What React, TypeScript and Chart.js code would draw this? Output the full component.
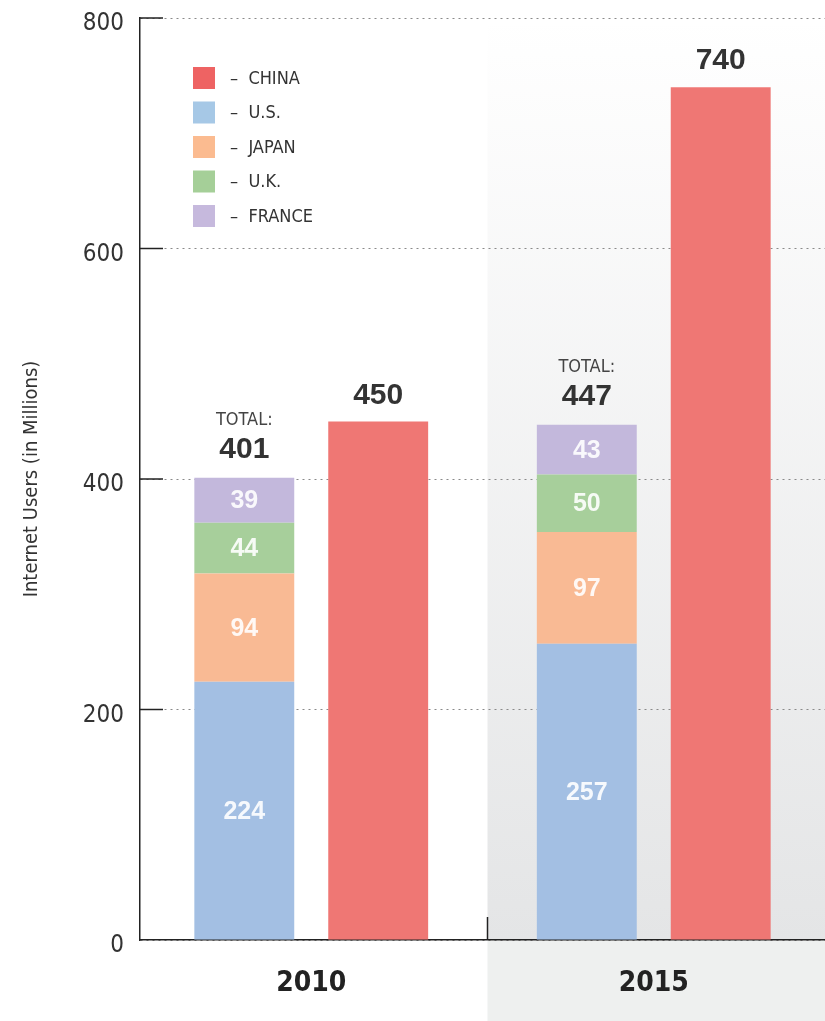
import React, { useEffect, useRef } from "react";
import { Chart, registerables } from "chart.js";
Chart.register(...registerables);

const years = ["2010", "2015"];
const china = [450, 740];
const us = [224, 257];
const japan = [94, 97];
const uk = [44, 50];
const france = [39, 43];
const yTickValues = [0, 200, 400, 600, 800];
const legendLabels = ["CHINA", "U.S.", "JAPAN", "U.K.", "FRANCE"];
const yTitle = "Internet Users (in Millions)";

const C_CHINA = "#ef7774";
const C_US = "#a3bfe3";
const C_JAPAN = "#f9ba94";
const C_UK = "#a7cf9b";
const C_FRANCE = "#c3b8dc";
const legendColors = ["#ee6363", "#a6c8e6", "#fbbb90", "#a5cf98", "#c6b9dd"];

const NARROW = '"Liberation Sans Narrow", "DejaVu Sans Condensed", "Roboto Condensed", sans-serif';
const BOLD = '"Liberation Sans", Arial, sans-serif';

const bgPlugin = {
  id: "bgPlugin",
  beforeDraw(chart: any) {
    const { ctx, chartArea, scales } = chart;
    const xs = scales.x;
    const mid = (xs.getPixelForTick(0) + xs.getPixelForTick(1)) / 2 + 5;
    ctx.save();
    const g = ctx.createLinearGradient(0, chartArea.top, 0, chartArea.bottom);
    g.addColorStop(0, "#ffffff");
    g.addColorStop(1, "#e4e5e6");
    ctx.fillStyle = g;
    ctx.fillRect(mid, chartArea.top + 8, chart.width - mid, chartArea.bottom - chartArea.top - 8);
    ctx.fillStyle = "#eef0ef";
    ctx.fillRect(mid, chartArea.bottom, chart.width - mid, chart.height - chartArea.bottom);
    ctx.restore();
  },
};

const decoPlugin = {
  id: "decoPlugin",
  afterDraw(chart: any) {
    const { ctx, chartArea, scales } = chart;
    const ys = scales.y;
    const xs = scales.x;
    ctx.save();
    ctx.strokeStyle = "#222";
    ctx.lineWidth = 1.5;
    yTickValues.forEach((v) => {
      if (v === 0) return;
      const y = ys.getPixelForValue(v);
      ctx.beginPath();
      ctx.moveTo(chartArea.left, y);
      ctx.lineTo(chartArea.left + 23, y);
      ctx.stroke();
    });
    const mid = (xs.getPixelForTick(0) + xs.getPixelForTick(1)) / 2 + 5;
    ctx.beginPath();
    ctx.moveTo(mid, chartArea.bottom);
    ctx.lineTo(mid, chartArea.bottom - 23);
    ctx.stroke();

    // legend
    const lx = chartArea.left + 53;
    let ly = chartArea.top + 60;
    ctx.textBaseline = "middle";
    ctx.textAlign = "left";
    legendLabels.forEach((lab, i) => {
      ctx.fillStyle = legendColors[i];
      ctx.fillRect(lx, ly - 11, 22, 22);
      ctx.fillStyle = "#333";
      ctx.font = `18px ${NARROW}`;
      ctx.fillText("–  " + lab, lx + 37, ly + 1);
      ly += 34.5;
    });
    ctx.restore();
  },
  afterDatasetsDraw(chart: any) {
    const { ctx } = chart;
    ctx.save();
    ctx.textAlign = "center";
    ctx.textBaseline = "middle";
    const n = chart.data.datasets.length;
    for (let d = 0; d < n; d++) {
      const ds = chart.data.datasets[d];
      const meta = chart.getDatasetMeta(d);
      meta.data.forEach((bar: any, i: number) => {
        const v = ds.data[i];
        if (ds.stack === "a") {
          ctx.fillStyle = "rgba(255,255,255,0.9)";
          ctx.font = `bold 25px ${BOLD}`;
          ctx.fillText(String(v), bar.x, (bar.y + bar.base) / 2 + 1);
        } else {
          ctx.fillStyle = "#333";
          ctx.font = `bold 30px ${BOLD}`;
          ctx.fillText(String(v), bar.x, bar.y - 26);
        }
      });
    }
    const stackIdx: number[] = [];
    chart.data.datasets.forEach((ds: any, d: number) => {
      if (ds.stack === "a") stackIdx.push(d);
    });
    const last = stackIdx[stackIdx.length - 1];
    const lastMeta = chart.getDatasetMeta(last);
    years.forEach((_, i) => {
      let total = 0;
      stackIdx.forEach((d) => (total += chart.data.datasets[d].data[i]));
      const bar = lastMeta.data[i];
      ctx.fillStyle = "#444";
      ctx.font = `18px ${NARROW}`;
      ctx.fillText("TOTAL:", bar.x, bar.y - 58);
      ctx.fillStyle = "#333";
      ctx.font = `bold 30px ${BOLD}`;
      ctx.fillText(String(total), bar.x, bar.y - 28);
    });
    ctx.restore();
  },
};

export default function App() {
  const ref = useRef<HTMLCanvasElement>(null);
  useEffect(() => {
    document.body.style.margin = "0";
    const canvas = ref.current!;
    const chart = new Chart(canvas, {
      type: "bar",
      data: {
        labels: years,
        datasets: [
          { label: "U.S.", data: us, backgroundColor: C_US, stack: "a" },
          { label: "JAPAN", data: japan, backgroundColor: C_JAPAN, stack: "a" },
          { label: "U.K.", data: uk, backgroundColor: C_UK, stack: "a" },
          { label: "FRANCE", data: france, backgroundColor: C_FRANCE, stack: "a" },
          { label: "CHINA", data: china, backgroundColor: C_CHINA, stack: "b" },
        ],
      },
      options: {
        responsive: false,
        maintainAspectRatio: false,
        animation: false,
        layout: { padding: { top: 18, left: 0, right: 0, bottom: 0 } },
        datasets: { bar: { categoryPercentage: 0.782, barPercentage: 0.746, borderWidth: 0 } },
        plugins: { legend: { display: false }, tooltip: { enabled: false } },
        scales: {
          x: {
            stacked: true,
            grid: { display: false, drawTicks: false },
            border: { display: true, color: "#222", width: 1.5 },
            ticks: {
              color: "#222",
              padding: 27,
              font: { family: NARROW, size: 28, weight: "bold" },
            },
            afterFit: (s: any) => {
              s.height = 81;
              s.paddingLeft = 0;
              s.paddingRight = 0;
            },
          },
          y: {
            stacked: true,
            min: 0,
            max: 800,
            afterBuildTicks: (s: any) => {
              s.ticks = yTickValues.map((v) => ({ value: v }));
            },
            grid: { color: "#8a8a8a", lineWidth: 1, drawTicks: false },
            border: { display: true, color: "#222", width: 1.5, dash: [2, 4] },
            ticks: {
              color: "#333",
              padding: 16,
              labelOffset: 6,
              font: { family: NARROW, size: 24 },
            },
            title: {
              display: true,
              text: yTitle,
              color: "#333",
              font: { family: NARROW, size: 20 },
              padding: { top: 20, bottom: 0 },
            },
            afterFit: (s: any) => {
              s.width = 140;
              s.paddingTop = 0;
              s.paddingBottom = 0;
            },
          },
        },
      },
      plugins: [bgPlugin, decoPlugin],
    } as any);
    return () => chart.destroy();
  }, []);
  return (
    <div style={{ width: 825, height: 1021, overflow: "hidden" }}>
      <canvas ref={ref} width={825} height={1021} style={{ display: "block" }} />
    </div>
  );
}
